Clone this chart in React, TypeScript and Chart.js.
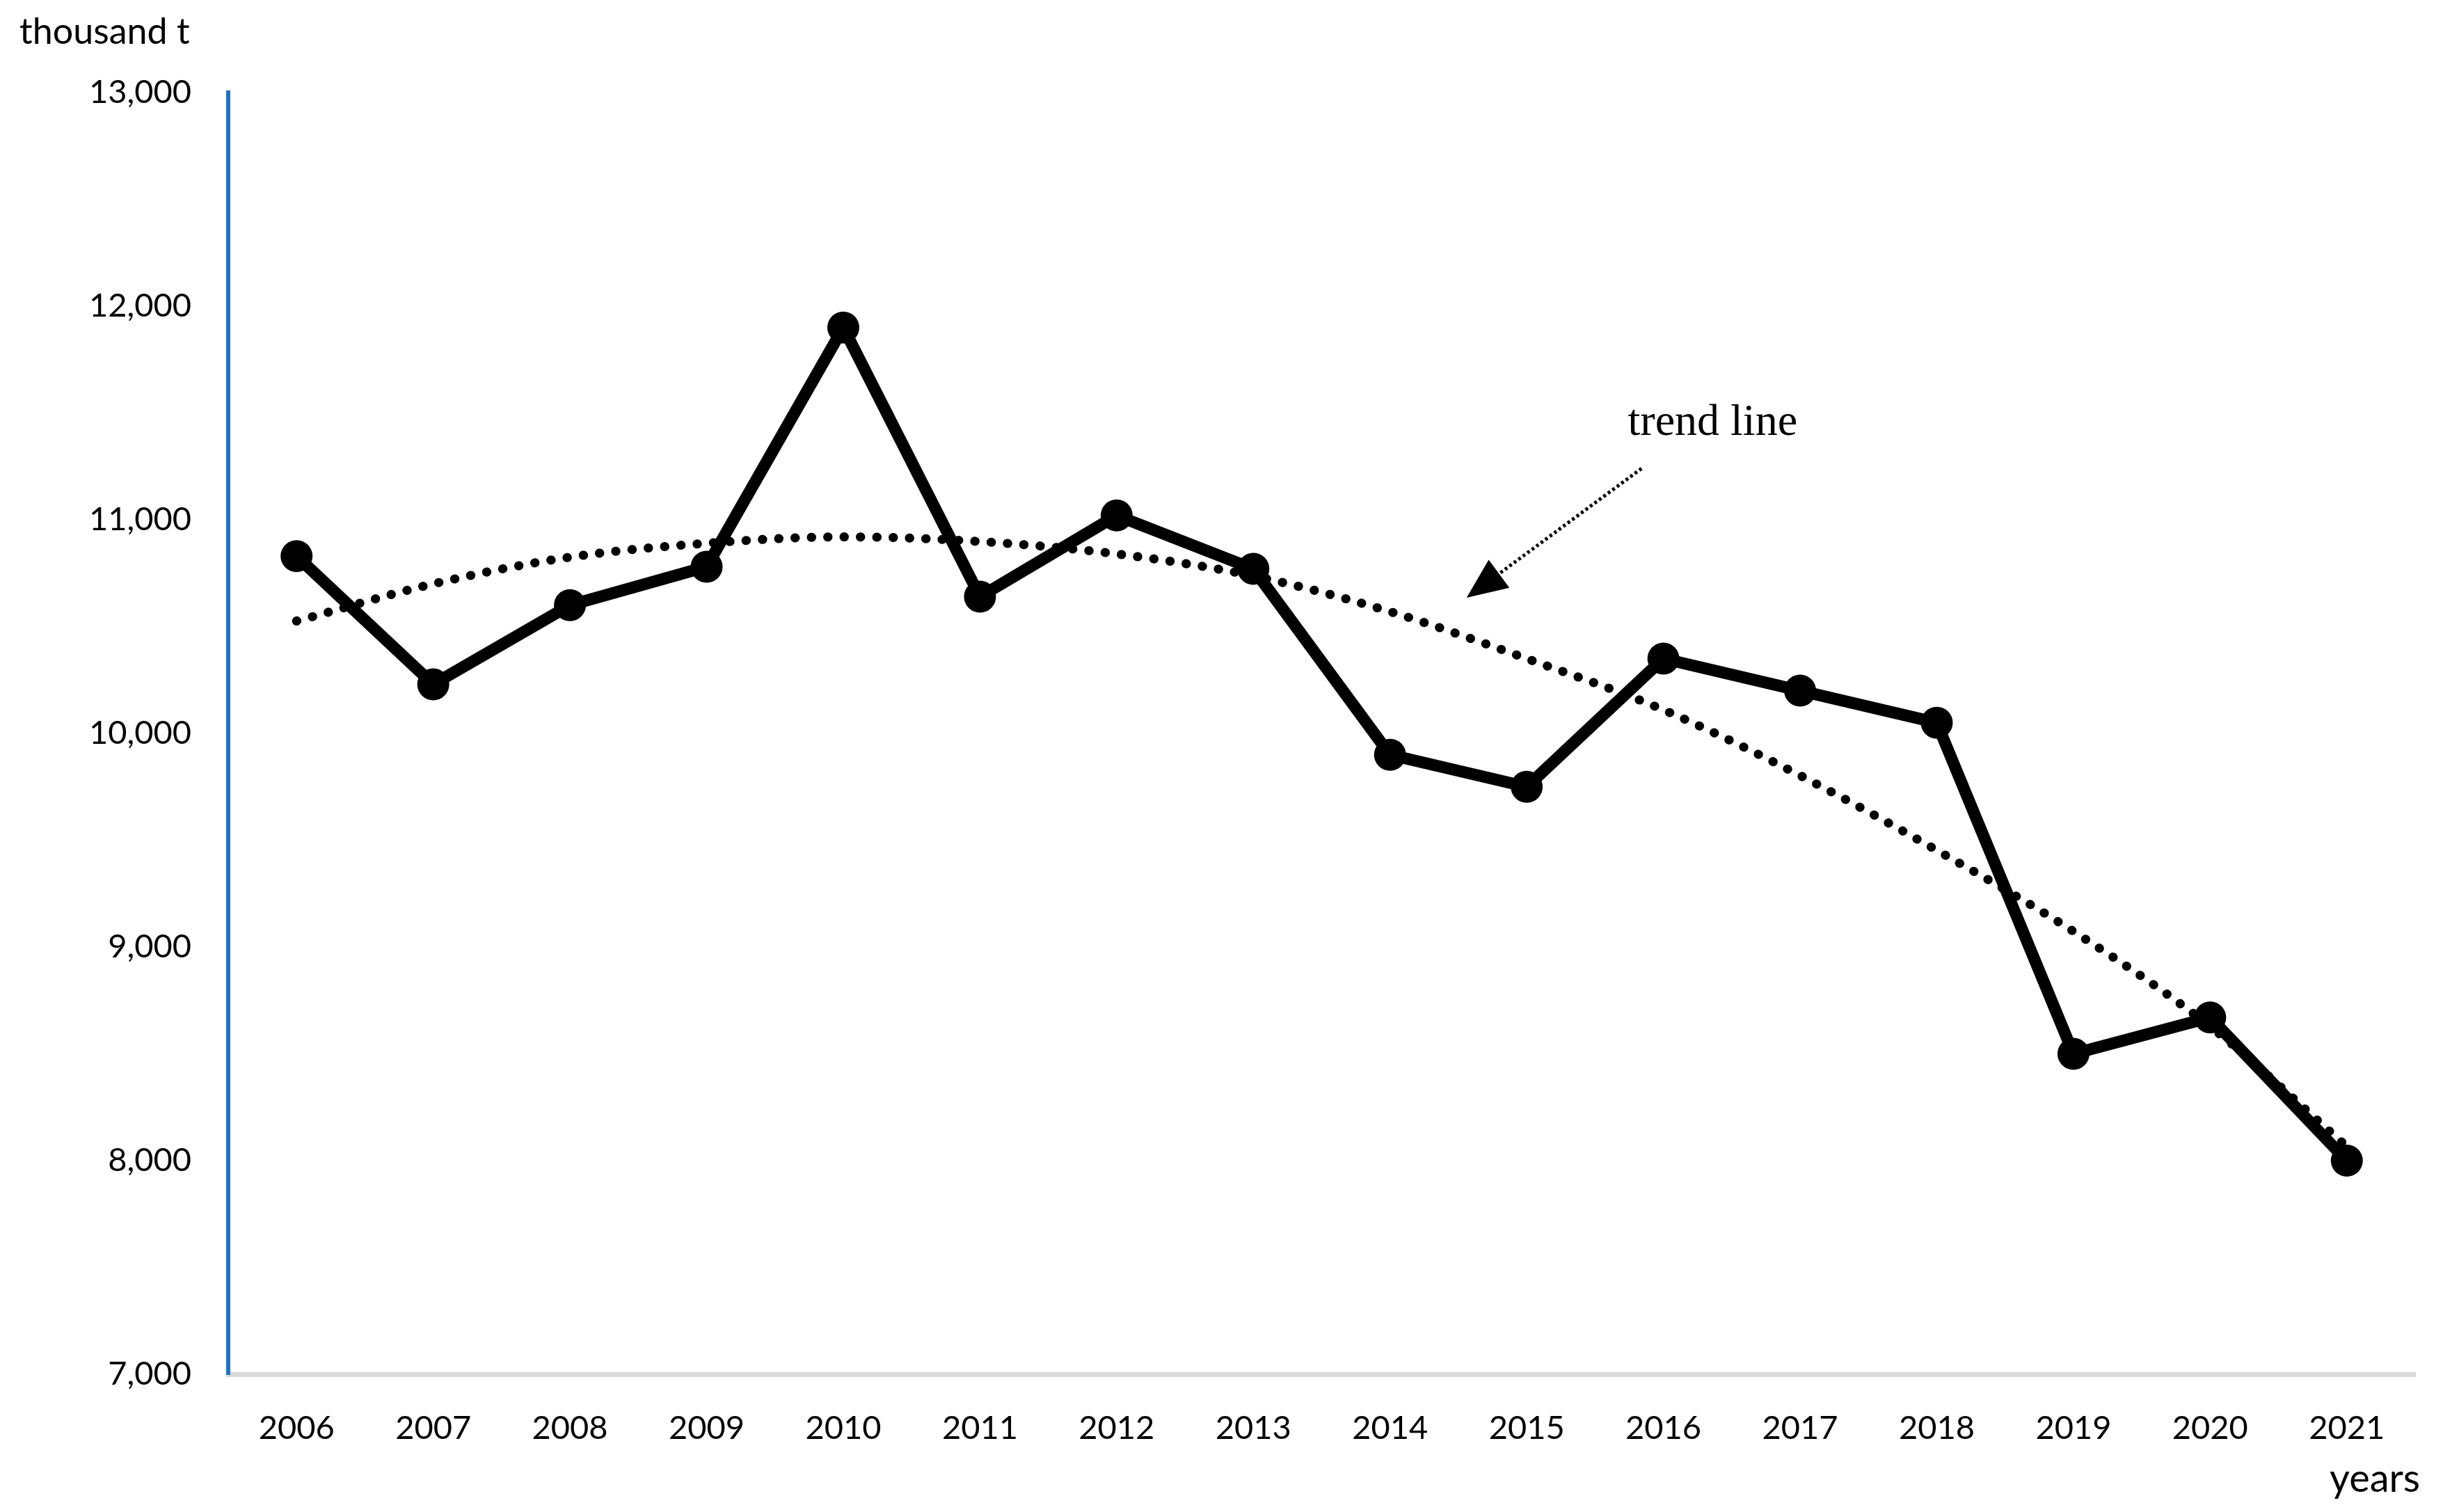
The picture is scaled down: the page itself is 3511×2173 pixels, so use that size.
import React, { useEffect, useRef } from 'react';
import { Chart, registerables } from 'chart.js';

Chart.register(...registerables);

// ---- data ----
const years = ['2006', '2007', '2008', '2009', '2010', '2011', '2012', '2013', '2014', '2015', '2016', '2017', '2018', '2019', '2020', '2021'];
const production = [10830, 10230, 10600, 10780, 11900, 10640, 11020, 10770, 9900, 9750, 10350, 10200, 10050, 8500, 8670, 8000];
const trendValues = [10526, 10700, 10825, 10890, 10920, 10898, 10840, 10737, 10570, 10350, 10110, 9803, 9453, 9073, 8628, 8066];
const yMin = 7000;
const yMax = 13000;
const yStep = 1000;
const yUnitLabel = 'thousand t';
const xUnitLabel = 'years';
const trendLabel = 'trend line';

// annotation anchors in data space: [category index, value]
const arrowStart = [9.84, 11240];
const arrowTip = [8.56, 10635];
const trendLabelAnchor = [10.36, 11453];

const W = 3511;
const H = 2173;
const TICK_FONT = 'Lato';

const annotationPlugin = {
  id: 'annotations',
  afterDraw(chart: any) {
    const ctx = chart.ctx;
    const xs = chart.scales.x;
    const ys = chart.scales.y;
    ctx.save();
    // axis unit labels
    ctx.fillStyle = '#000';
    ctx.font = `52px ${TICK_FONT}`;
    ctx.textAlign = 'left';
    ctx.textBaseline = 'middle';
    ctx.fillText(yUnitLabel, 28, 46);
    ctx.font = `56px ${TICK_FONT}`;
    ctx.textAlign = 'right';
    ctx.fillText(xUnitLabel, 3478, 2126);

    // trend label
    ctx.font = `64px "Liberation Serif"`;
    ctx.textAlign = 'center';
    ctx.fillText(trendLabel, xs.getPixelForValue(trendLabelAnchor[0]), ys.getPixelForValue(trendLabelAnchor[1]));

    // arrow
    const sx = xs.getPixelForValue(arrowStart[0]);
    const sy = ys.getPixelForValue(arrowStart[1]);
    const tx = xs.getPixelForValue(arrowTip[0]);
    const ty = ys.getPixelForValue(arrowTip[1]);
    const ang = Math.atan2(ty - sy, tx - sx);
    const headLen = 58;
    const headHalf = 25;
    const bx = tx - headLen * Math.cos(ang);
    const by = ty - headLen * Math.sin(ang);
    ctx.strokeStyle = '#000';
    ctx.lineWidth = 5;
    ctx.setLineDash([4, 4]);
    ctx.beginPath();
    ctx.moveTo(sx, sy);
    ctx.lineTo(bx, by);
    ctx.stroke();
    ctx.setLineDash([]);
    ctx.beginPath();
    ctx.moveTo(tx, ty);
    ctx.lineTo(bx + headHalf * Math.sin(ang), by - headHalf * Math.cos(ang));
    ctx.lineTo(bx - headHalf * Math.sin(ang), by + headHalf * Math.cos(ang));
    ctx.closePath();
    ctx.fillStyle = '#000';
    ctx.fill();
    ctx.restore();
  },
};

export default function App() {
  const canvasRef = useRef<HTMLCanvasElement | null>(null);

  useEffect(() => {
    document.body.style.margin = '0';
    const canvas = canvasRef.current;
    if (!canvas) return;
    const chart = new Chart(canvas, {
      type: 'line',
      data: {
        labels: years,
        datasets: [
          {
            label: 'production',
            data: production,
            borderColor: '#000',
            backgroundColor: '#000',
            borderWidth: 17,
            pointRadius: 23,
            pointBackgroundColor: '#000',
            pointBorderWidth: 0,
            tension: 0,
            borderJoinStyle: 'round',
            clip: false,
          },
          {
            label: 'trend',
            data: trendValues,
            borderColor: '#000',
            borderWidth: 13,
            borderDash: [0.5, 23],
            borderCapStyle: 'round',
            pointRadius: 0,
            cubicInterpolationMode: 'monotone',
            clip: false,
          },
        ],
      },
      options: {
        responsive: false,
        animation: false,
        devicePixelRatio: 1,
        layout: { padding: { left: 0, top: 133, right: 40, bottom: 0 } },
        plugins: { legend: { display: false }, tooltip: { enabled: false }, title: { display: false } },
        scales: {
          x: {
            type: 'category',
            offset: true,
            grid: { display: false, drawTicks: false },
            border: { display: true, color: '#D9D9D9', width: 7 },
            ticks: {
              color: '#000',
              font: { family: TICK_FONT, size: 47 },
              padding: 50,
              maxRotation: 0,
              autoSkip: false,
            },
            afterFit(scale: any) {
              scale.height = 198;
            },
          },
          y: {
            min: yMin,
            max: yMax,
            grid: { display: false, drawTicks: false },
            border: { display: true, color: '#1F72C6', width: 6 },
            ticks: {
              stepSize: yStep,
              color: '#000',
              font: { family: TICK_FONT, size: 47 },
              padding: 53,
              callback: (v: any) => Number(v).toLocaleString('en-US'),
            },
            afterFit(scale: any) {
              scale.width = 328;
            },
          },
        },
      },
      plugins: [annotationPlugin],
    } as any);
    return () => chart.destroy();
  }, []);

  return (
    <div style={{ position: 'fixed', left: 0, top: 0, width: W, height: H, background: '#fff' }}>
      <canvas ref={canvasRef} width={W} height={H} style={{ width: W, height: H, display: 'block' }} />
    </div>
  );
}
